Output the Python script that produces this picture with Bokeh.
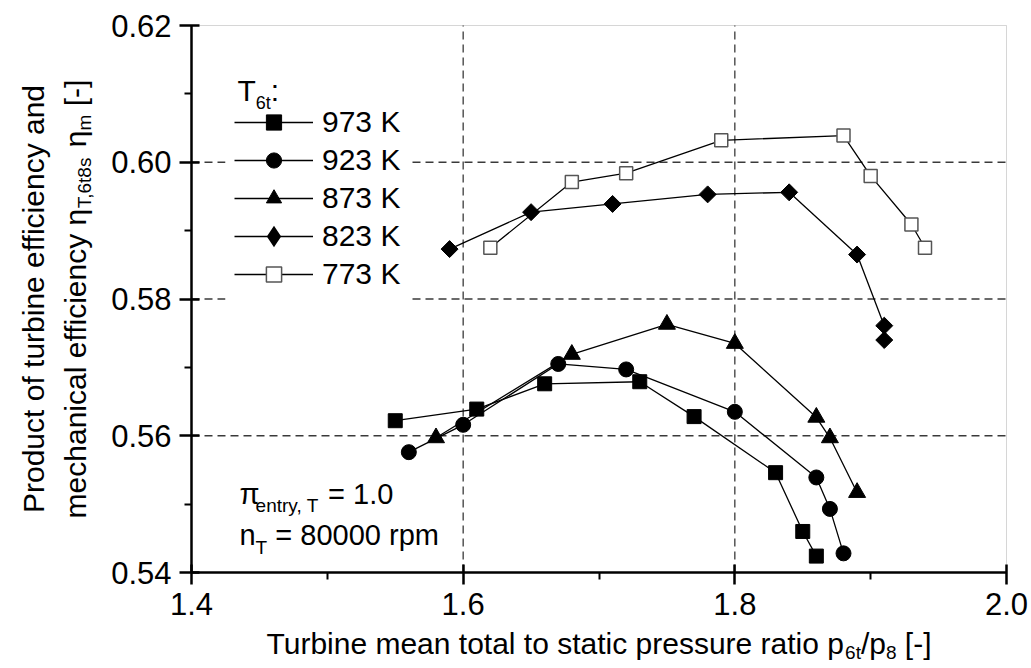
import math
from bokeh.plotting import figure
from bokeh.models import (Range1d, FixedTicker, PrintfTickFormatter, Label,
                          Legend, LegendItem, BoxAnnotation)
from bokeh.embed import file_html
from bokeh.resources import INLINE

# ---------------- data ----------------
x_973 = [1.55, 1.61, 1.66, 1.73, 1.77, 1.83, 1.85, 1.86]
y_973 = [0.5622, 0.5639, 0.5676, 0.5679, 0.5628, 0.5546, 0.5460, 0.5424]

x_923 = [1.56, 1.60, 1.67, 1.72, 1.80, 1.86, 1.87, 1.88]
y_923 = [0.5576, 0.5616, 0.5705, 0.5697, 0.5635, 0.5539, 0.5493, 0.5428]

x_873 = [1.58, 1.68, 1.75, 1.80, 1.86, 1.87, 1.89]
y_873 = [0.5597, 0.5719, 0.5763, 0.5735, 0.5627, 0.5597, 0.5517]

x_823 = [1.59, 1.65, 1.71, 1.78, 1.84, 1.89, 1.91, 1.91]
y_823 = [0.5873, 0.5927, 0.5939, 0.5953, 0.5956, 0.5865, 0.5761, 0.5740]

x_773 = [1.62, 1.68, 1.72, 1.79, 1.88, 1.90, 1.93, 1.94]
y_773 = [0.5875, 0.5971, 0.5984, 0.6032, 0.6039, 0.5980, 0.5909, 0.5875]

series_labels = ["973 K", "923 K", "873 K", "823 K", "773 K"]

x_ticks = [1.4, 1.6, 1.8, 2.0]
x_minor = [1.5, 1.7, 1.9]
y_ticks = [0.54, 0.56, 0.58, 0.60, 0.62]
y_minor = [0.55, 0.57, 0.59, 0.61]
x_grid = [1.6, 1.8]
y_grid = [0.56, 0.58, 0.60]

XMIN, XMAX = 1.4, 2.0
YMIN, YMAX = 0.54, 0.62

# ---------------- layout (pixels) ----------------
W, H = 1031, 668
FL, FR, FT, FB = 191, 1006, 25, 572
FONT = "Liberation Sans"
FS_TICK = 31
FS_AX = 30
FS_AX_SUB = 19
FS_LEG = 30
FS_ANN = 29
FS_ANN_SUB = 19

AW = {' ': 278, '[': 278, ']': 278, '-': 333, ',': 278, '.': 278, '/': 278,
      ':': 278, '=': 584, 'a': 556, 'b': 556, 'c': 500, 'd': 556, 'e': 556,
      'f': 278, 'h': 556, 'i': 222, 'l': 222, 'm': 833, 'n': 556, 'o': 556,
      'p': 556, 'r': 333, 's': 500, 't': 278, 'u': 556, 'y': 500, 'k': 500,
      'P': 667, 'T': 611, 'K': 667, 'η': 556, 'π': 556}


def wid(s, size):
    return sum(AW.get(c, 556) for c in s) / 1000.0 * size


KX = (XMAX - XMIN) / (FR - FL)
KY = (YMAX - YMIN) / (FB - FT)
XA, XB = XMIN - FL * KX, XMAX + (W - FR) * KX
YA, YB = YMIN - (H - FB) * KY, YMAX + FT * KY


def dx(px):
    return XMIN + (px - FL) * KX


def dy(py):
    return YMIN + (FB - py) * KY


p = figure(width=W, height=H, x_range=Range1d(XA, XB),
           y_range=Range1d(YA, YB), output_backend="svg",
           toolbar_location=None, min_border=0)
p.title.visible = False
p.background_fill_color = "white"
p.border_fill_color = "white"
p.outline_line_color = None
p.xgrid.visible = False
p.ygrid.visible = False

# frame border (top / right visible as thin grey lines)
p.add_layout(BoxAnnotation(left=XMIN, right=XMAX, bottom=YMIN, top=YMAX,
                           fill_alpha=0, line_color="#777777", line_width=1,
                           level="underlay"))

# axes fixed at the data frame edges
p.xaxis.fixed_location = YMIN
p.yaxis.fixed_location = XMIN
p.xaxis.bounds = (XMIN, XMAX)
p.yaxis.bounds = (YMIN, YMAX)
p.xaxis.ticker = FixedTicker(ticks=x_ticks, minor_ticks=x_minor)
p.yaxis.ticker = FixedTicker(ticks=y_ticks, minor_ticks=y_minor)
p.xaxis.formatter = PrintfTickFormatter(format="%.1f")
p.yaxis.formatter = PrintfTickFormatter(format="%.2f")
for ax in (p.xaxis[0], p.yaxis[0]):
    ax.axis_line_color = "black"
    ax.axis_line_width = 2.5
    ax.major_tick_line_color = "black"
    ax.major_tick_line_width = 2.5
    ax.major_tick_out = 12
    ax.major_tick_in = 8
    ax.minor_tick_line_color = "black"
    ax.minor_tick_line_width = 2
    ax.minor_tick_out = 7
    ax.minor_tick_in = 0
    ax.major_label_text_font = FONT
    ax.major_label_text_font_size = f"{FS_TICK}px"
    ax.major_label_text_color = "black"
    ax.major_label_standoff = 8

# dashed grid at the inner major ticks
GRID = dict(line_color="#3a3a3a", line_dash="8 5", line_width=1.3)
p.segment(x0=x_grid, x1=x_grid, y0=[YMIN] * len(x_grid), y1=[YMAX] * len(x_grid), **GRID)
p.segment(x0=[XMIN] * len(y_grid), x1=[XMAX] * len(y_grid), y0=y_grid, y1=y_grid, **GRID)

# white legend background (hides the grid behind the legend block)
p.quad(left=[dx(225)], right=[dx(408)], top=[dy(62)], bottom=[dy(302)],
       fill_color="white", line_color=None)

styles = [
    dict(marker="square", size=14, fill_color="black", line_color="black", line_width=1, angle=0),
    dict(marker="circle", size=15, fill_color="black", line_color="black", line_width=1, angle=0),
    dict(marker="triangle", size=17, fill_color="black", line_color="black", line_width=1, angle=0),
    dict(marker="square", size=12, fill_color="black", line_color="black", line_width=1, angle=math.pi / 4),
    dict(marker="square", size=13, fill_color="white", line_color="#555555", line_width=1.5, angle=0),
]
data = [(x_973, y_973), (x_923, y_923), (x_873, y_873), (x_823, y_823), (x_773, y_773)]

items = []
for (xs, ys), st, name in zip(data, styles, series_labels):
    lr = p.line(xs, ys, line_color="black", line_width=1.3)
    leg_r = None
    if st["angle"] != 0:
        # small plain diamond (hidden under the rotated squares) used as legend symbol
        leg_r = p.scatter(xs, ys, marker="diamond", size=6, line_width=3.5,
                          line_join="miter", fill_color="black", line_color="black")
    sr = p.scatter(xs, ys, **st)
    items.append(LegendItem(label=name, renderers=[lr, leg_r or sr]))

legend = Legend(items=items, location=(234, H - 302 + 9), glyph_width=79,
                glyph_height=38, label_height=38, spacing=0, padding=10,
                margin=0, label_standoff=9, label_text_font=FONT,
                label_text_font_size=f"{FS_LEG}px", label_text_color="black",
                background_fill_alpha=0.0, border_line_color=None)
p.add_layout(legend)


def lab(text, cx, cy, size, align="left", angle=0.0):
    p.add_layout(Label(x=dx(cx), y=dy(cy), text=text, text_font=FONT,
                       text_font_size=f"{size}px", text_align=align,
                       text_baseline="alphabetic", angle=angle,
                       text_color="black", level="overlay"))


def chain_h(pieces, x0, base):
    cur = x0
    for t, s, off in pieces:
        lead = len(t) - len(t.lstrip(" "))
        cur += wid(" " * lead, s)
        t = t.lstrip(" ")
        lab(t, cur, base + off, s)
        cur += wid(t, s)


def chain_v(pieces, base_x, y_mid):
    total = sum(wid(t, s) for t, s, _ in pieces)
    cur = y_mid + total / 2
    for t, s, off in pieces:
        lead = len(t) - len(t.lstrip(" "))
        cur -= wid(" " * lead, s)
        t = t.lstrip(" ")
        lab(t, base_x + off, cur, s, angle=math.pi / 2)
        cur -= wid(t, s)


# legend title  T_6t:
chain_h([("T", FS_LEG, 0), ("6t", 18, 12), (":", FS_LEG, 0)], 237, 90)

# annotation
chain_h([("π", FS_ANN, 0), ("entry, T", FS_ANN_SUB, 12), (" = 1.0", FS_ANN, 0)], 239, 493)
chain_h([("n", FS_ANN, 0), ("T", FS_ANN_SUB, 13), (" = 80000 rpm", FS_ANN, 0)], 239, 534)

# x axis label
xl = [("Turbine mean total to static pressure ratio p", FS_AX, 0),
      ("6t", FS_AX_SUB, 9), ("/p", FS_AX, 0), ("8", FS_AX_SUB, 9),
      (" [-]", FS_AX, 0)]
Lx = sum(wid(t, s) for t, s, _ in xl)
chain_h(xl, (FL + FR) / 2 - Lx / 2, 643)

# y axis label (rotated, two lines)
ymid = (FT + FB) / 2
lab("Product of turbine efficiency and", 33, ymid, FS_AX, align="center", angle=math.pi / 2)
yl = [("mechanical efficiency η", FS_AX, 0), ("T,6t8s", FS_AX_SUB, 9),
      (" η", FS_AX, 0), ("m", FS_AX_SUB, 9), (" [-]", FS_AX, 0)]
chain_v(yl, 75, ymid)

open("out.html", "w").write(file_html(p, INLINE))
